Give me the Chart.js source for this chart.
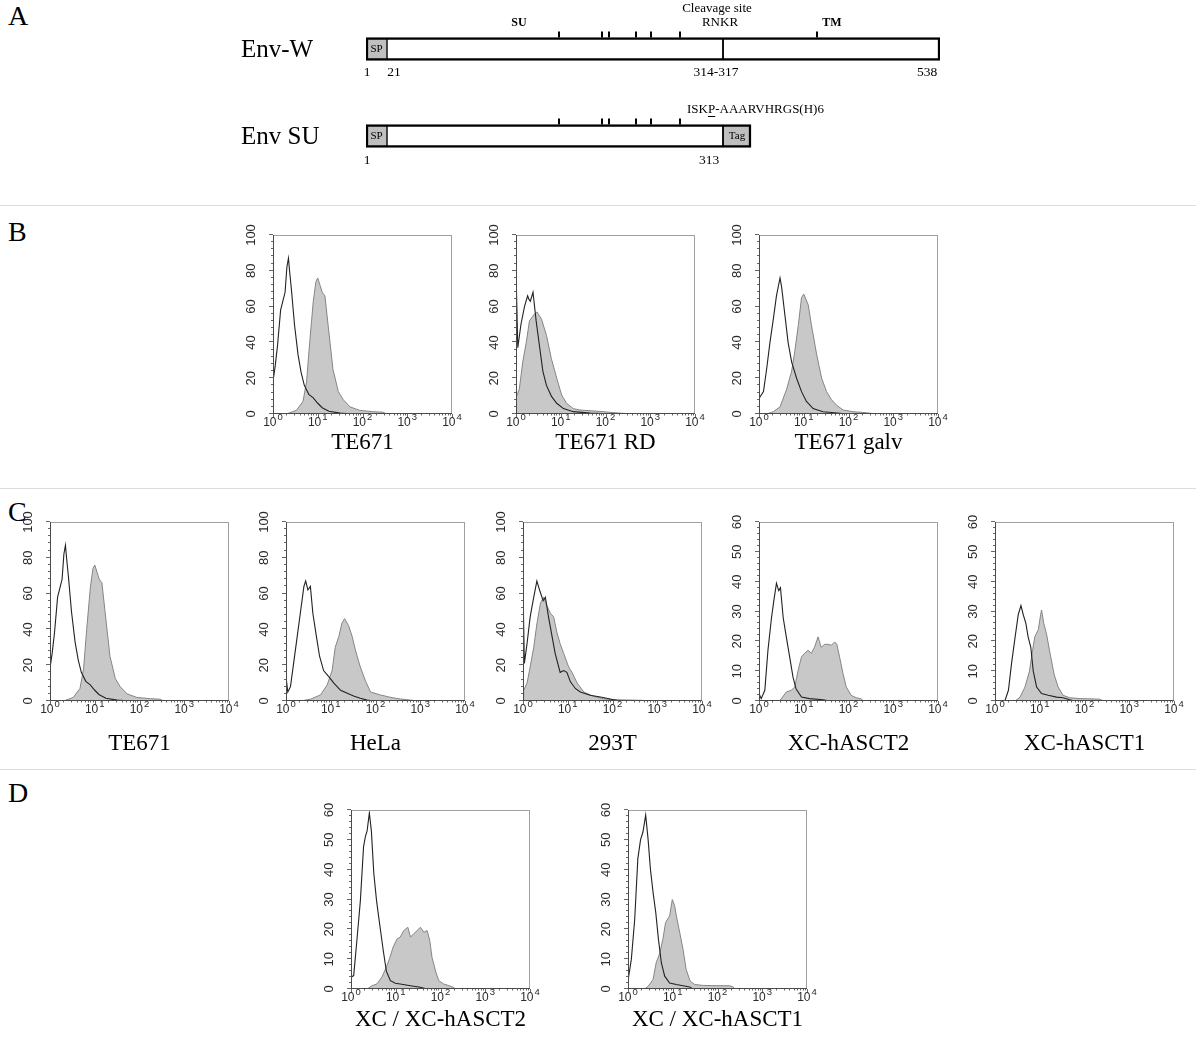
<!DOCTYPE html>
<html>
<head>
<meta charset="utf-8">
<script src="https://cdn.jsdelivr.net/npm/chart.js@4.4.0/dist/chart.umd.min.js"></script>
<style>
  body { margin: 0; background: #fff; }
  #fig { position: relative; width: 1200px; height: 1038px; overflow: hidden; font-family: "Liberation Serif", "Times New Roman", serif; }
  .sep { position: absolute; left: 0; width: 1196px; height: 1px; background: #dcdcdc; }
  .letter { position: absolute; left: 8px; font-size: 28px; line-height: 28px; color: #000; }
  canvas { position: absolute; }
</style>
</head>
<body>
<div id="fig">
  <div class="letter" style="top:2px">A</div>
  <div class="sep" style="top:205px"></div>
  <div class="letter" style="top:218px">B</div>
  <div class="sep" style="top:488px"></div>
  <div class="letter" style="top:498px">C</div>
  <div class="sep" style="top:769px"></div>
  <div class="letter" style="top:779px">D</div>
</div>
<script>
// ---- panel A: Env diagrams (x in diagram units, not to scale) ----
const envRows = ['Env-W', 'Env SU'];
const spSeg = [[0, 21], [0, 21]];
const suSeg = [[21, 357], [21, 357]];
const tailSeg = [[357, 574], [357, 385]];      // TM for Env-W, Tag for Env SU
const glycoSites = [193, 236, 243, 270, 285, 314];
const tmSite = 451;
const envWNums = ['1', '21', '314-317', '538'];
const envWNumPos = [1, 28, 350, 561];
const envSUNums = ['1', '313'];
const envSUNumPos = [1, 343];

// ---- flow cytometry histograms: x = log10 fluorescence (decades), y = counts ----
const ctrlTE671 = [[0,0],[0,65],[0.02,20],[0.05,27],[0.1,38],[0.17,58],[0.22,63],[0.27,68],[0.31,82],[0.345,87],[0.37,80],[0.41,70],[0.48,50],[0.56,33],[0.63,23],[0.7,16],[0.8,11],[0.9,9],[1.0,6],[1.1,3.5],[1.25,1.5],[1.5,0.5],[1.8,0]];
const stainTE671 = [[0.3,0],[0.52,2],[0.67,7],[0.75,18],[0.82,40],[0.9,63],[0.96,74],[1.0,76],[1.05,72],[1.1,68],[1.16,66],[1.23,50],[1.34,25],[1.46,12.5],[1.57,8],[1.72,4],[1.94,2],[2.24,1.3],[2.46,1],[2.54,0]];
const ctrlRD = [[0,0],[0,81],[0.04,37],[0.11,50],[0.19,60],[0.26,66],[0.29,64],[0.32,63],[0.38,68],[0.45,52],[0.53,37],[0.6,24],[0.68,16],[0.79,10],[0.91,6],[1.06,3],[1.28,1.3],[1.66,0.5],[2.19,0]];
const stainRD = [[0,0],[0,9],[0.075,14],[0.15,29],[0.23,40],[0.3,52],[0.415,56],[0.47,57],[0.57,53],[0.68,44],[0.79,31],[0.91,20],[1.02,10.6],[1.13,6],[1.28,3],[1.43,2.2],[1.74,1.7],[1.96,1.3],[2.19,0.7],[2.49,0.2],[2.64,0]];
const ctrlGalv = [[0,0],[0,40],[0.02,9],[0.1,12.5],[0.17,25],[0.245,40],[0.32,53],[0.39,66],[0.47,76],[0.505,71],[0.58,55],[0.65,40],[0.73,29],[0.84,20],[0.95,12.5],[1.06,7],[1.21,3],[1.43,1.3],[1.81,0.4],[2.0,0]];
const stainGalv = [[0.17,0],[0.32,1.3],[0.47,4],[0.62,14],[0.73,24],[0.8,35],[0.88,50],[0.95,65],[1.0,67],[1.1,61],[1.17,50],[1.29,33],[1.4,20],[1.51,12.5],[1.62,8],[1.73,5],[1.88,2.2],[2.1,1.3],[2.4,0.7],[2.62,0]];
const ctrlHeLa = [[0,0],[0,13.6],[0.04,5],[0.1,8],[0.17,21],[0.25,36],[0.32,49],[0.4,64],[0.44,67],[0.49,62],[0.545,64],[0.6,49],[0.68,36],[0.75,25],[0.84,17],[0.955,13.6],[1.07,10],[1.22,6],[1.37,4.3],[1.51,2.8],[1.66,1.5],[1.81,0.5],[1.96,0]];
const stainHeLa = [[0.32,0],[0.545,1],[0.77,3.4],[0.92,9],[1.03,17],[1.1,30],[1.18,36],[1.25,43.5],[1.31,46],[1.4,42],[1.48,36],[1.55,28.5],[1.66,19],[1.78,11],[1.89,5],[2.11,3.4],[2.34,2],[2.56,1.1],[2.78,0.5],[2.93,0]];
const ctrl293T = [[0,0],[0,64],[0.03,21],[0.09,32],[0.16,47],[0.24,58],[0.31,67],[0.37,62],[0.45,56],[0.5,58],[0.57,47],[0.65,36],[0.72,26.5],[0.83,16],[0.91,17],[0.98,16],[1.06,10.7],[1.17,7],[1.28,5],[1.5,3.2],[1.73,2.2],[2.03,0.7],[2.18,0]];
const stain293T = [[0,0],[0.015,6],[0.09,10],[0.16,19],[0.24,30],[0.31,43],[0.39,54.6],[0.46,58],[0.54,53],[0.61,49],[0.685,47],[0.76,38],[0.83,32],[0.91,26.5],[1.02,19],[1.095,16],[1.21,10],[1.36,5],[1.58,2.6],[1.8,1.3],[2.03,0.7],[2.62,0.4],[2.92,0]];
const ctrlASCT2 = [[0,2.5],[0.05,0.8],[0.13,3.6],[0.2,17],[0.28,28],[0.335,34],[0.39,39.5],[0.44,37],[0.48,38],[0.54,28],[0.61,21.5],[0.685,14.8],[0.76,8],[0.83,4],[0.95,1.3],[1.13,0.8],[1.43,0.4],[1.58,0]];
const stainASCT2 = [[0.46,0],[0.61,3],[0.72,3.6],[0.8,4.7],[0.87,10],[0.95,14.8],[1.02,16],[1.095,17],[1.17,16],[1.24,18],[1.32,21.5],[1.39,18],[1.47,19],[1.54,19],[1.62,18.7],[1.69,19.8],[1.74,19],[1.8,14.8],[1.88,9],[1.95,4.7],[2.06,1.9],[2.17,1.1],[2.29,0.7],[2.32,0]];
const ctrlASCT1 = [[0.22,0],[0.3,3.6],[0.37,12.6],[0.45,21.5],[0.52,29],[0.58,32],[0.63,29],[0.69,26],[0.74,21.5],[0.8,18],[0.855,10],[0.93,4.7],[1.04,2.5],[1.19,1.9],[1.375,1.3],[1.52,1.1],[1.67,0.4],[1.78,0]];
const stainASCT1 = [[0.45,0],[0.56,1.3],[0.67,4.7],[0.77,10],[0.84,17],[0.89,21.5],[0.97,24],[1.02,29],[1.04,30.5],[1.09,26],[1.15,22.6],[1.23,16],[1.32,9],[1.41,4.7],[1.52,1.9],[1.67,1.1],[1.9,0.8],[2.19,0.7],[2.34,0.6],[2.42,0]];
const ctrlXC2 = [[0,0],[0,16.8],[0.02,4],[0.06,4.5],[0.13,16],[0.21,29.7],[0.28,47.6],[0.32,51],[0.36,53],[0.41,59],[0.455,53],[0.51,38.7],[0.57,29.7],[0.62,24],[0.66,19.6],[0.72,13],[0.79,6],[0.88,2.8],[0.99,1.9],[1.1,1.7],[1.33,1.1],[1.55,0.6],[1.7,0]];
const stainXC2 = [[0.36,0],[0.47,1.1],[0.58,1.7],[0.69,4],[0.79,7.3],[0.87,10.6],[0.94,14],[1.03,16.8],[1.1,17.4],[1.18,19.6],[1.27,20.7],[1.33,17.4],[1.4,18.5],[1.48,19.6],[1.55,20.7],[1.63,19],[1.7,19.6],[1.76,16.3],[1.81,10.6],[1.89,6],[1.96,2.8],[2.07,1.7],[2.19,1.1],[2.28,0.6],[2.34,0]];
const ctrlXC1 = [[0,0],[0,16],[0.02,3.7],[0.075,10],[0.15,23.4],[0.22,43.7],[0.28,50],[0.335,52.7],[0.395,58.3],[0.45,50],[0.5,40.3],[0.56,32.4],[0.62,25.7],[0.68,16.7],[0.745,8.8],[0.82,4.3],[0.93,2],[1.08,1.5],[1.23,1.1],[1.38,0.7],[1.45,0]];
const stainXC1 = [[0.37,0],[0.45,0.9],[0.56,3.2],[0.63,8.8],[0.71,12],[0.78,16.7],[0.84,22.3],[0.93,24.5],[0.99,30],[1.04,28],[1.095,23.4],[1.155,19],[1.23,13.3],[1.3,6.5],[1.39,2.6],[1.49,1.5],[1.68,1.2],[1.97,1.1],[2.27,1.1],[2.35,0.7],[2.38,0]];

const decades = [0, 1, 2, 3, 4];

const fig = document.getElementById('fig');
const SERIF = '"Liberation Serif", "Times New Roman", serif';
const SANS = '"Liberation Sans", Arial, sans-serif';

// ---------- panel A ----------
const envText = {
  id: 'envText',
  afterDatasetsDraw(chart) {
    const { ctx, scales: { x, y } } = chart;
    const half = 11.5;
    ctx.save();
    ctx.fillStyle = '#000';
    ctx.strokeStyle = '#000';
    envRows.forEach((name, i) => {
      const cy = y.getPixelForValue(i);
      ctx.font = '25px ' + SERIF;
      ctx.textAlign = 'left';
      ctx.textBaseline = 'middle';
      ctx.fillText(name, 241, cy + 1);
      ctx.font = '11px ' + SERIF;
      ctx.textAlign = 'center';
      ctx.fillText('SP', x.getPixelForValue((spSeg[i][0] + spSeg[i][1]) / 2), cy);
      ctx.lineWidth = 2;
      glycoSites.forEach(s => {
        const px = Math.round(x.getPixelForValue(s));
        ctx.beginPath();
        ctx.moveTo(px, cy - half - 6);
        ctx.lineTo(px, cy - half);
        ctx.stroke();
      });
    });
    const y0 = y.getPixelForValue(0), y1 = y.getPixelForValue(1);
    const tx = Math.round(x.getPixelForValue(tmSite));
    ctx.beginPath(); ctx.moveTo(tx, y0 - half - 6); ctx.lineTo(tx, y0 - half); ctx.stroke();
    ctx.font = '11px ' + SERIF;
    ctx.fillText('Tag', x.getPixelForValue((tailSeg[1][0] + tailSeg[1][1]) / 2), y1);
    ctx.font = 'bold 12px ' + SERIF;
    ctx.fillText('SU', x.getPixelForValue(153), y0 - 26);
    ctx.fillText('TM', x.getPixelForValue(466), y0 - 26);
    ctx.font = '13px ' + SERIF;
    ctx.fillText('RNKR', x.getPixelForValue(354), y0 - 26);
    ctx.fillText('Cleavage site', x.getPixelForValue(351), y0 - 40);
    ctx.font = '13.5px ' + SERIF;
    envWNums.forEach((t, k) => ctx.fillText(t, x.getPixelForValue(envWNumPos[k]), y0 + 23.5));
    envSUNums.forEach((t, k) => ctx.fillText(t, x.getPixelForValue(envSUNumPos[k]), y1 + 24));
    ctx.font = '13px ' + SERIF;
    ctx.textAlign = 'left';
    const sx = x.getPixelForValue(321), sy = y1 - 26;
    ctx.fillText('ISKP-AAARVHRGS(H)6', sx, sy);
    const u0 = sx + ctx.measureText('ISK').width, uw = ctx.measureText('P').width;
    ctx.lineWidth = 1;
    ctx.beginPath(); ctx.moveTo(u0, sy + 6.5); ctx.lineTo(u0 + uw, sy + 6.5); ctx.stroke();
    ctx.restore();
  }
};

const cA = document.createElement('canvas');
cA.width = 1200; cA.height = 200;
cA.style.left = '0px'; cA.style.top = '0px';
fig.appendChild(cA);
new Chart(cA, {
  type: 'bar',
  data: {
    labels: envRows,
    datasets: [
      { data: spSeg, backgroundColor: '#bfbfbf', borderWidth: { left: 2.5, right: 1, top: 2.5, bottom: 2.5 } },
      { data: suSeg, backgroundColor: '#ffffff', borderWidth: { left: 1, right: 1.25, top: 2.5, bottom: 2.5 } },
      { data: tailSeg, backgroundColor: ['#ffffff', '#bfbfbf'], borderWidth: { left: 1.25, right: 2.5, top: 2.5, bottom: 2.5 } }
    ]
  },
  options: {
    indexAxis: 'y',
    responsive: false,
    animation: false,
    devicePixelRatio: 1,
    layout: { padding: { left: 366, right: 260, top: 5.5, bottom: 20.5 } },
    datasets: { bar: { grouped: false, barThickness: 23, borderColor: '#000', borderSkipped: false } },
    scales: {
      x: { type: 'linear', min: 0, max: 574, display: false },
      y: { display: false }
    },
    plugins: { legend: { display: false }, tooltip: { enabled: false } }
  },
  plugins: [envText]
});

// ---------- histograms ----------
const PAD = { left: 40, right: 10, top: 12, bottom: 62 };
const PLOT = 179;

const flowAxes = {
  id: 'flowAxes',
  afterDatasetsDraw(chart, args, opts) {
    const { ctx, chartArea: a, scales: { x, y } } = chart;
    ctx.save();
    ctx.strokeStyle = '#a0a0a0';
    ctx.lineWidth = 1;
    ctx.strokeRect(a.left + 0.5, a.top + 0.5, a.right - a.left - 1, a.bottom - a.top - 1);
    ctx.strokeStyle = '#4a4a4a';
    ctx.beginPath();
    ctx.moveTo(a.left + 0.5, a.top); ctx.lineTo(a.left + 0.5, a.bottom);
    ctx.moveTo(a.left, a.bottom - 0.5); ctx.lineTo(a.right, a.bottom - 0.5);
    ctx.stroke();
    const minor = opts.yStep / 5;
    ctx.strokeStyle = '#666';
    for (let v = 0; v <= opts.yMax + 1e-6; v += minor) {
      const py = Math.round(y.getPixelForValue(v)) - 0.5;
      const major = Math.abs(v / opts.yStep - Math.round(v / opts.yStep)) < 1e-6;
      ctx.beginPath(); ctx.moveTo(a.left, py); ctx.lineTo(a.left - (major ? 4 : 2), py); ctx.stroke();
    }
    decades.forEach(d => {
      const px = Math.round(x.getPixelForValue(d)) + 0.5;
      ctx.beginPath(); ctx.moveTo(px, a.bottom); ctx.lineTo(px, a.bottom + 3); ctx.stroke();
      if (d < 4) {
        for (let m = 2; m < 10; m++) {
          const mx = Math.round(x.getPixelForValue(d + Math.log10(m))) + 0.5;
          ctx.beginPath(); ctx.moveTo(mx, a.bottom); ctx.lineTo(mx, a.bottom + 1.5); ctx.stroke();
        }
      }
    });
    // y labels (rotated)
    ctx.fillStyle = '#2a2a2a';
    ctx.font = '13px ' + SANS;
    ctx.textAlign = 'center';
    ctx.textBaseline = 'middle';
    for (let v = 0; v <= opts.yMax + 1e-6; v += opts.yStep) {
      const py = y.getPixelForValue(v);
      ctx.save();
      ctx.translate(a.left - 22, py);
      ctx.rotate(-Math.PI / 2);
      ctx.fillText(String(Math.round(v)), 0, 0);
      ctx.restore();
    }
    // x labels 10^n
    decades.forEach(d => {
      const px = x.getPixelForValue(d);
      ctx.font = '12px ' + SANS;
      const w1 = ctx.measureText('10').width;
      ctx.font = '9.5px ' + SANS;
      const w2 = ctx.measureText(String(d)).width;
      const left = px - (w1 + w2 + 1) / 2;
      ctx.textAlign = 'left';
      ctx.font = '12px ' + SANS;
      ctx.fillText('10', left, a.bottom + 9);
      ctx.font = '9.5px ' + SANS;
      ctx.fillText(String(d), left + w1 + 1, a.bottom + 3.5);
    });
    // sample name
    ctx.fillStyle = '#000';
    ctx.font = '23px ' + SERIF;
    ctx.textAlign = 'center';
    ctx.fillText(opts.name, (a.left + a.right) / 2, a.bottom + opts.nameGap);
    ctx.restore();
  }
};

function histogram(left, top, ctrl, stain, yMax, yStep, name, nameGap) {
  const c = document.createElement('canvas');
  c.width = PLOT + PAD.left + PAD.right;
  c.height = PLOT + PAD.top + PAD.bottom;
  c.style.left = (left - PAD.left) + 'px';
  c.style.top = (top - PAD.top) + 'px';
  fig.appendChild(c);
  new Chart(c, {
    type: 'line',
    data: {
      datasets: [
        { data: ctrl, borderColor: '#222', borderWidth: 1.1, fill: false, pointRadius: 0, tension: 0 },
        { data: stain, borderColor: '#858585', backgroundColor: '#c8c8c8', borderWidth: 1, fill: 'origin', pointRadius: 0, tension: 0 }
      ]
    },
    options: {
      responsive: false,
      animation: false,
      devicePixelRatio: 1,
      layout: { padding: PAD },
      scales: {
        x: { type: 'linear', min: 0, max: 4, display: false },
        y: { min: 0, max: yMax, display: false }
      },
      plugins: {
        legend: { display: false },
        tooltip: { enabled: false },
        flowAxes: { yMax, yStep, name, nameGap }
      }
    },
    plugins: [flowAxes]
  });
}

histogram(273, 235, ctrlTE671, stainTE671, 100, 20, 'TE671', 29);
histogram(516, 235, ctrlRD, stainRD, 100, 20, 'TE671 RD', 29);
histogram(759, 235, ctrlGalv, stainGalv, 100, 20, 'TE671 galv', 29);

histogram(50, 522, ctrlTE671, stainTE671, 100, 20, 'TE671', 43);
histogram(286, 522, ctrlHeLa, stainHeLa, 100, 20, 'HeLa', 43);
histogram(523, 522, ctrl293T, stain293T, 100, 20, '293T', 43);
histogram(759, 522, ctrlASCT2, stainASCT2, 60, 10, 'XC-hASCT2', 43);
histogram(995, 522, ctrlASCT1, stainASCT1, 60, 10, 'XC-hASCT1', 43);

histogram(351, 810, ctrlXC2, stainXC2, 60, 10, 'XC / XC-hASCT2', 31);
histogram(628, 810, ctrlXC1, stainXC1, 60, 10, 'XC / XC-hASCT1', 31);
</script>
</body>
</html>
